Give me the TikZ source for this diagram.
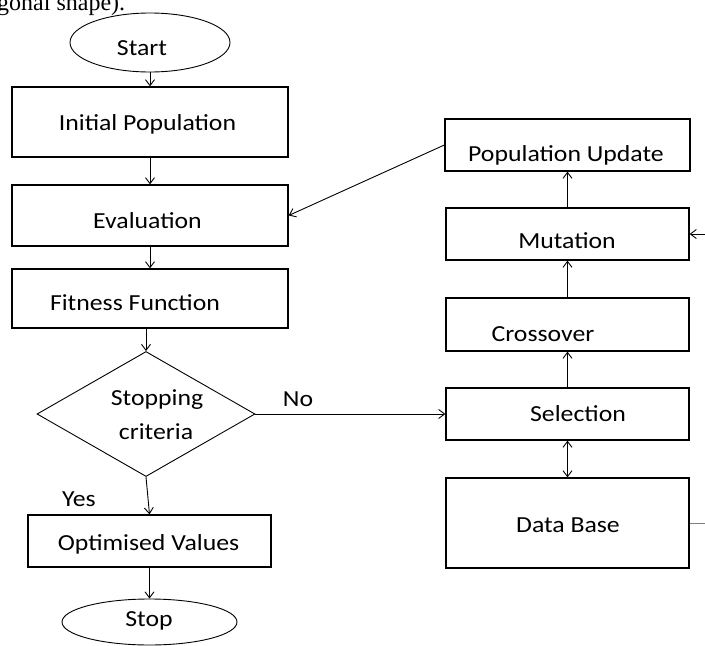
\documentclass[tikz,border=0pt]{standalone}
\usepackage{fontspec}
\setmainfont{Carlito}[FakeStretch=1.12]
\newfontfamily\capfont{Liberation Serif}
\usetikzlibrary{shapes.geometric,arrows.meta}
\begin{document}
\begin{tikzpicture}[x=1pt,y=-1pt,
  box/.style={draw, line width=1.3pt, rectangle, inner sep=0pt},
  oval/.style={draw, line width=0.9pt, ellipse, inner sep=0pt},
  dia/.style={draw, line width=0.9pt, diamond, aspect=1.744, inner sep=0pt, minimum width=218pt, minimum height=125pt},
  txt/.style={inner sep=0pt, anchor=base, font=\fontsize{23}{28}\selectfont},
  arr/.style={line width=0.9pt, -{Straight Barb[length=6pt,width=9pt]}},
  dbl/.style={line width=0.9pt, {Straight Barb[length=6pt,width=9pt]}-{Straight Barb[length=6pt,width=9pt]}}
]
\useasboundingbox (0,0) rectangle (705,646);
\clip (0,0) rectangle (705,646);

% caption fragment
\node[inner sep=0pt, anchor=base west, font=\capfont\fontsize{24}{28}\selectfont] (cap) at (-3,10) {gonal shape).};

% left column shapes
\node[oval, minimum width=160pt, minimum height=59pt] (start) at (150,42.5) {};
\node[box, minimum width=276pt, minimum height=70pt] (init) at (150,122) {};
\node[box, minimum width=276pt, minimum height=61pt] (eval) at (150,215.5) {};
\node[box, minimum width=276pt, minimum height=59pt] (fit) at (150,298.5) {};
\node[dia] (crit) at (146,414) {};
\node[box, minimum width=243pt, minimum height=52pt] (opt) at (149.5,541) {};
\node[oval, minimum width=175pt, minimum height=46pt] (stop) at (149.5,622) {};

% right column shapes
\node[box, minimum width=245pt, minimum height=52pt] (popup) at (567.5,145) {};
\node[box, minimum width=243pt, minimum height=52pt] (mut) at (567.5,234) {};
\node[box, minimum width=243pt, minimum height=53pt] (cross) at (567.5,324.5) {};
\node[box, minimum width=243pt, minimum height=52pt] (sel) at (567.5,414) {};
\node[box, minimum width=243pt, minimum height=90pt] (db) at (567.5,523) {};

% texts
\node[txt] (startt) at (142,55) {Start};
\node[txt] (initt) at (147.5,130) {Initial Population};
\node[txt] (evalt) at (147.5,228) {Evaluation};
\node[txt] (fitt) at (135,310) {Fitness Function};
\node[txt] (critt1) at (157,405) {Stopping};
\node[txt] (critt2) at (156,439) {criteria};
\node[txt] (optt) at (148.5,550) {Optimised Values};
\node[txt] (stopt) at (149,626) {Stop};
\node[txt] (yes) at (79,506) {Yes};
\node[txt] (no) at (298,406) {No};
\node[txt] (popupt) at (566,161) {Population Update};
\node[txt] (mutt) at (567,248) {Mutation};
\node[txt] (crosst) at (543,341) {Crossover};
\node[txt] (selt) at (578,421) {Selection};
\node[txt] (dbt) at (568,532) {Data Base};

% connectors
\draw[arr] (start.south) -- (init.north);
\draw[arr] (init.south) -- (eval.north);
\draw[arr] (eval.south) -- (fit.north);
\draw[arr] (fit.south -| crit.north) -- (crit.north);
\draw[arr] (crit.east) -- (sel.west);
\draw[arr] (crit.south) -- (opt.north);
\draw[arr] (opt.south) -- (stop.north);
\draw[arr] (popup.west) -- (eval.east);
\draw[arr] (mut.north) -- (popup.south);
\draw[arr] (cross.north) -- (mut.south);
\draw[arr] (sel.north) -- (cross.south);
\draw[dbl] (sel.south) -- (db.north);
\coordinate (mutin) at (705,234);
\draw[arr] (mutin) -- (mut.east);
\coordinate (dbout) at (705,523);
\draw[line width=1pt, gray] (db.east) -- (dbout);
\end{tikzpicture}
\end{document}
